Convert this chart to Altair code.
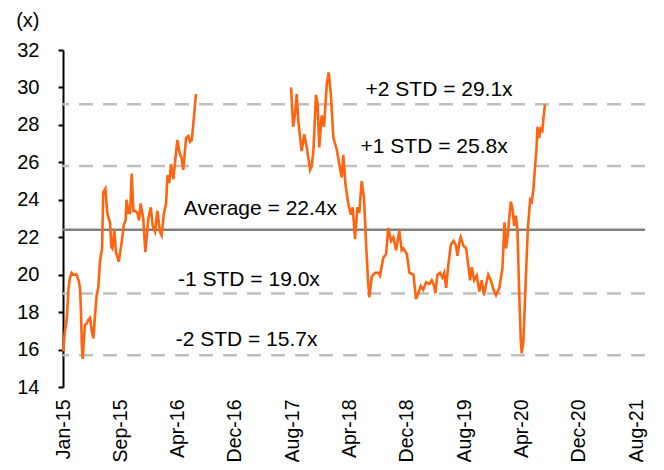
import altair as alt
import pandas as pd

# ---- data ----
dates_a = [
    "2015-01-02", "2015-01-09", "2015-01-14", "2015-01-19", "2015-01-24", "2015-01-30",
    "2015-02-07", "2015-02-14", "2015-02-28", "2015-03-08", "2015-03-14", "2015-03-18",
    "2015-03-22", "2015-03-26", "2015-03-30", "2015-04-04", "2015-04-12", "2015-04-19",
    "2015-04-26", "2015-05-03", "2015-05-10", "2015-05-17", "2015-05-24", "2015-05-31",
    "2015-06-07", "2015-06-16", "2015-06-21", "2015-06-30", "2015-07-08", "2015-07-14",
    "2015-07-20", "2015-07-25", "2015-07-30", "2015-08-07", "2015-08-14", "2015-08-26",
    "2015-09-07", "2015-09-17", "2015-09-24", "2015-09-28", "2015-10-06", "2015-10-13",
    "2015-10-20", "2015-10-27", "2015-11-05", "2015-11-13", "2015-11-20", "2015-11-27",
    "2015-12-08", "2015-12-17", "2015-12-30", "2016-01-09", "2016-01-17", "2016-01-27",
    "2016-02-06", "2016-02-17", "2016-02-24", "2016-03-05", "2016-03-14", "2016-03-20",
    "2016-03-28", "2016-04-04", "2016-04-14", "2016-04-21", "2016-05-01", "2016-05-09",
    "2016-05-19", "2016-05-26", "2016-06-07", "2016-06-16", "2016-06-24", "2016-07-01",
    "2016-07-08", "2016-07-19",
]
values_a = [
    15.9, 17.0, 17.3, 18.0, 19.2, 19.8,
    20.1, 20.0, 20.0, 19.7, 19.3, 18.2,
    16.2, 15.5, 16.4, 17.3, 17.4, 17.6,
    17.7, 17.0, 16.6, 17.8, 18.9, 19.3,
    20.7, 21.4, 24.4, 24.6, 23.3, 23.0,
    22.8, 21.5, 21.4, 22.4, 21.2, 20.7,
    21.7, 22.7, 22.9, 24.0, 23.3, 23.3,
    25.4, 23.4, 23.4, 23.3, 22.9, 23.8,
    23.0, 21.2, 23.0, 23.6, 22.6, 22.3,
    23.4, 22.3, 22.1, 23.3, 23.8, 25.3,
    24.9, 25.9, 25.1, 26.0, 27.2, 26.6,
    26.2, 25.6, 27.3, 27.4, 27.1, 27.2,
    28.1, 29.65,
]

dates_b = [
    "2017-08-27", "2017-09-05", "2017-09-13", "2017-09-20", "2017-09-27", "2017-10-04",
    "2017-10-11", "2017-10-22", "2017-11-02", "2017-11-09", "2017-11-16", "2017-11-23",
    "2017-11-30", "2017-12-11", "2017-12-18", "2017-12-25", "2018-01-04", "2018-01-14",
    "2018-01-26", "2018-02-03", "2018-02-12", "2018-02-23", "2018-03-09", "2018-03-20",
    "2018-03-30", "2018-04-06", "2018-04-15", "2018-04-27", "2018-05-08", "2018-05-16",
    "2018-05-26", "2018-06-05", "2018-06-13", "2018-06-23", "2018-07-03", "2018-07-12",
    "2018-07-21", "2018-07-26", "2018-08-05", "2018-08-19", "2018-09-02", "2018-09-09",
    "2018-09-23", "2018-10-05", "2018-10-14", "2018-10-26", "2018-11-05", "2018-11-16",
    "2018-11-30", "2018-12-10", "2018-12-17", "2019-01-01", "2019-01-12", "2019-01-29",
    "2019-02-09", "2019-02-19", "2019-03-01", "2019-03-12", "2019-03-24", "2019-04-07",
    "2019-04-17", "2019-04-27", "2019-05-02", "2019-05-11", "2019-05-22", "2019-06-01",
    "2019-06-09", "2019-06-17", "2019-06-26", "2019-07-07", "2019-07-18", "2019-07-29",
    "2019-08-04", "2019-08-12", "2019-08-18", "2019-08-29", "2019-09-10", "2019-09-19",
    "2019-09-27", "2019-10-04", "2019-10-14", "2019-10-25", "2019-11-05", "2019-11-15",
    "2019-11-25", "2019-12-04", "2019-12-13", "2019-12-24", "2020-01-04", "2020-01-15",
    "2020-01-29", "2020-02-08", "2020-02-11", "2020-02-20", "2020-02-26", "2020-03-05",
    "2020-03-11", "2020-03-18", "2020-03-25", "2020-04-01", "2020-04-08", "2020-04-15",
    "2020-04-22", "2020-04-29", "2020-05-03", "2020-05-10", "2020-05-20", "2020-05-29",
    "2020-06-08", "2020-06-15", "2020-06-22", "2020-06-29", "2020-07-05", "2020-07-09",
    "2020-07-16", "2020-07-23", "2020-07-30", "2020-08-03", "2020-08-10",
]
values_b = [
    30.0, 27.9, 28.6, 29.65, 28.2, 27.4,
    26.6, 27.5, 26.8, 26.2, 25.6, 25.8,
    26.6, 29.6, 29.1, 26.8, 28.5, 27.9,
    30.2, 30.8, 29.65, 27.3, 26.7, 25.9,
    25.2, 26.4, 24.85, 23.8, 23.2, 23.6,
    21.9, 23.6, 23.3, 25.0, 24.1, 21.6,
    19.5, 18.8, 19.9, 20.1, 20.1, 19.95,
    20.9, 21.1, 22.5, 21.8, 22.0, 21.3,
    22.35, 21.3, 21.4, 21.1, 20.1, 20.0,
    18.7, 19.0, 19.4, 19.2, 19.6, 19.5,
    19.7, 19.4, 19.0, 20.0, 20.1, 19.85,
    20.1, 19.3, 20.5, 21.6, 21.8, 21.55,
    21.0, 21.7, 22.0, 21.55, 21.4, 20.5,
    19.7, 20.4, 19.7, 19.95, 19.1, 19.7,
    18.9, 19.5, 20.0, 19.7, 19.2, 18.9,
    19.3, 20.1, 20.3, 22.8, 21.4, 22.1,
    23.0, 23.9, 23.5, 22.6, 23.15, 22.4,
    19.2, 16.6, 15.8, 16.4, 19.6, 22.4,
    24.0, 23.9, 24.6, 25.8, 26.7, 27.9,
    27.3, 27.8, 27.7, 28.3, 29.1,
]

band_levels = [29.1, 25.8, 19.0, 15.7]
average_level = 22.4

label_texts = ["+2 STD = 29.1x", "+1 STD = 25.8x", "Average = 22.4x",
               "-1 STD = 19.0x", "-2 STD = 15.7x"]
label_dates = ["2019-05-18", "2019-04-27", "2017-04-19", "2017-03-01", "2017-02-19"]
label_values = [29.86, 26.80, 23.50, 19.74, 16.49]

tick_labels = ["Jan-15", "Sep-15", "Apr-16", "Dec-16", "Aug-17", "Apr-18",
               "Dec-18", "Aug-19", "Apr-20", "Dec-20", "Aug-21"]
y_ticks = [14, 16, 18, 20, 22, 24, 26, 28, 30, 32]

# ---- axis geometry (even tick spacing) ----
DAY_MS = 86400000
t0 = int(pd.Timestamp("2015-01-01").value // 10**6)
step = 243.5 * DAY_MS
t_end = int(t0 + 2473 * DAY_MS)
tick_vals = [int(t0 + k * step) for k in range(len(tick_labels))]
label_js = "[" + ",".join("'%s'" % s for s in tick_labels) + "]"
label_expr = f"{label_js}[round((datum.value - {t0}) / {step})]"

def to_ms(ds):
    return [int(pd.Timestamp(d).value // 10**6) for d in ds]

series = pd.DataFrame({
    "date": to_ms(dates_a) + to_ms(dates_b),
    "value": values_a + values_b,
    "seg": ["a"] * len(dates_a) + ["b"] * len(dates_b),
})

FONT = "Liberation Sans"

x_scale = alt.Scale(domain=[t0, t_end])
y_scale = alt.Scale(domain=[14, 32], nice=False, zero=False)

x_axis = alt.Axis(values=tick_vals, labelExpr=label_expr, labelAngle=-90,
                  labelAlign="right", labelBaseline="middle", labelPadding=12,
                  labelOverlap=False, labelBound=False,
                  domain=False, ticks=False, grid=False, title=None,
                  labelFontSize=19.5, labelColor="#000000", labelFont=FONT)
y_axis = alt.Axis(values=y_ticks, tickCount=10, grid=False, labelOverlap=False,
                  labelBound=False, labelFlush=False,
                  domainColor="#000000", domainWidth=2, tickColor="#000000",
                  tickWidth=2, tickSize=5, labelPadding=19, labelFontSize=20,
                  labelColor="#000000", labelFont=FONT,
                  title="(x)", titleAngle=0, titleAlign="right", titleBaseline="middle",
                  titleX=-24, titleY=-30, titleFontSize=20, titleFontWeight="normal",
                  titleColor="#000000", titleFont=FONT)

bands = alt.Chart(pd.DataFrame({"level": band_levels})).mark_rule(
    color="#BFBFBF", strokeWidth=2.5, strokeDash=[14, 10]
).encode(y=alt.Y("level:Q", scale=y_scale, axis=y_axis))

avg = alt.Chart(pd.DataFrame({"level": [average_level]})).mark_rule(
    color="#808080", strokeWidth=2.5
).encode(y=alt.Y("level:Q", scale=y_scale, axis=y_axis))

line = alt.Chart(series).mark_line(color="#FF6410", strokeWidth=2.6).encode(
    x=alt.X("date:T", scale=x_scale, axis=x_axis),
    y=alt.Y("value:Q", scale=y_scale, axis=y_axis),
    detail="seg:N",
)

labels = alt.Chart(pd.DataFrame({
    "text": label_texts, "date": to_ms(label_dates), "value": label_values,
})).mark_text(fontSize=21, font=FONT, color="#000000", align="center",
              baseline="middle").encode(
    x=alt.X("date:T", scale=x_scale, axis=x_axis),
    y=alt.Y("value:Q", scale=y_scale, axis=y_axis),
    text="text:N",
)

chart = alt.layer(bands, avg, line, labels).properties(
    width=582, height=337,
    autosize=alt.AutoSizeParams(type="none"),
    padding={"left": 55, "top": 42, "right": 10, "bottom": 75},
    background="#FFFFFF",
).configure_view(stroke=None)

chart.save("out.html", embed_options={"renderer": "svg", "actions": False})
